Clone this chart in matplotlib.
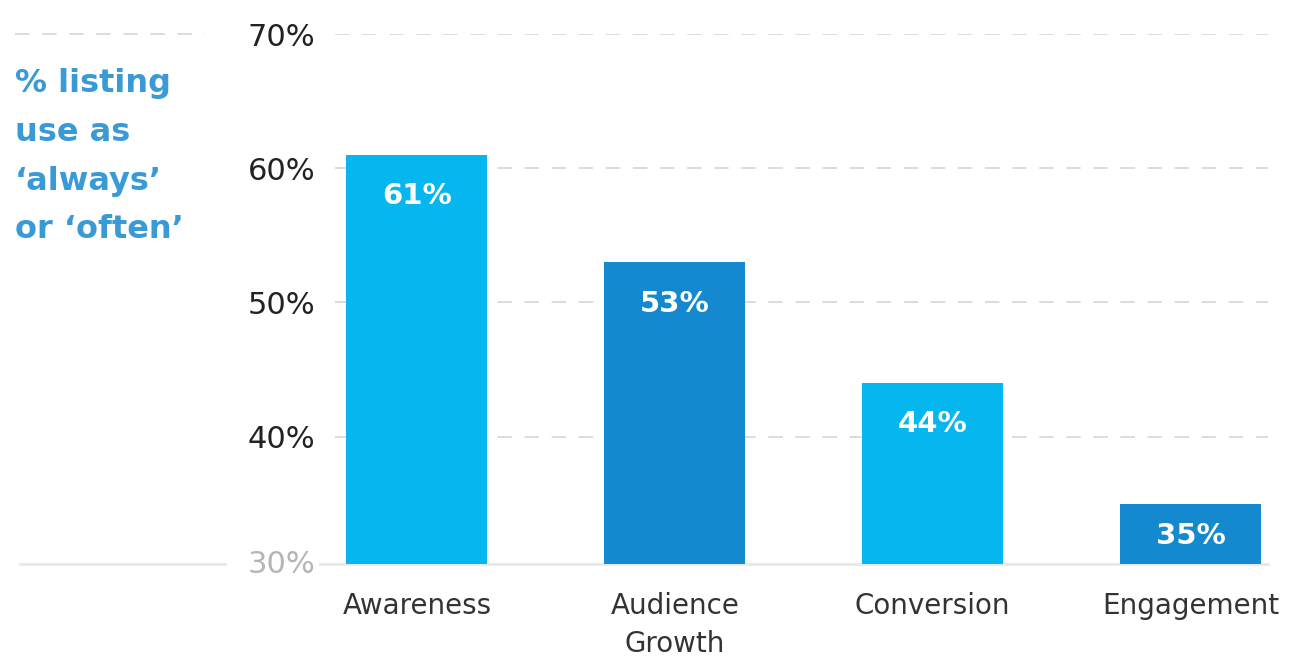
import matplotlib.pyplot as plt

## chart data
categories = ["Awareness", "Audience\nGrowth", "Conversion", "Engagement"]
values = [61, 53, 44, 35]
value_labels = ["61%", "53%", "44%", "35%"]
grid_ticks = [40, 50, 60, 70]
grid_labels = ["40%", "50%", "60%", "70%"]

light_blue = "#05b7ee"
dark_blue = "#1489cf"
bar_colors = [light_blue, dark_blue, light_blue, dark_blue]

plt.rcParams['font.family'] = ['DejaVu Sans']

fig = plt.figure(figsize=(13.1, 6.62), dpi=100)
ax = fig.add_axes([0.2557, 0.148, 0.7122, 0.8006])

x = list(range(len(categories)))
ax.bar(x, values, width=0.547, color=bar_colors, zorder=3)

ax.set_xlim(-0.318, 3.30)
ax.set_ylim(30.5, 70)

## dashed grid lines
for t in grid_ticks:
    ax.axhline(t, color="#d9d9d9", lw=1.3, dashes=(8, 7), zorder=1)
## little dashed piece left of the 70% label
ax.axhline(70, xmin=-0.343, xmax=-0.139, color="#d9d9d9", lw=1.3,
           dashes=(8, 7), clip_on=False)
## solid light baseline (broken around the 30% label)
ax.axhline(30.5, xmin=-0.3376, xmax=-0.118, color="#e8e8e8", lw=2, clip_on=False)
ax.axhline(30.5, xmin=-0.016, xmax=1, color="#e8e8e8", lw=2, clip_on=False, zorder=2)

ax.set_yticks(grid_ticks)
ax.set_yticklabels(grid_labels, fontsize=22, color="#222222")
ax.text(-0.0215, 30.5, "30%", transform=ax.get_yaxis_transform(), ha="right",
        va="center", fontsize=22, color="#b5b5b5")

ax.set_xticks(x)
ax.set_xticklabels(categories, fontsize=20, color="#333333", linespacing=1.45)
ax.tick_params(axis="both", length=0)
ax.tick_params(axis="y", pad=14)
ax.tick_params(axis="x", pad=20)

for s in ax.spines.values():
    s.set_visible(False)

## value labels inside the bars (short bars get the label a bit closer to the top)
for xi, v, lab in zip(x, values, value_labels):
    off = min(3.1, (v - 30.5) * 0.53)
    ax.text(xi, v - off, lab, ha="center", va="center", fontsize=21,
            fontweight="bold", color="white", zorder=4)

## axis title on the left
fig.text(15 / 1310, 1 - 68 / 662, "% listing\nuse as\n\u2018always\u2019\nor \u2018often\u2019",
         ha="left", va="top", fontsize=23, fontweight="bold", color="#3a9ad6",
         linespacing=1.74)

fig.savefig("out.png", dpi=100, facecolor="white")
